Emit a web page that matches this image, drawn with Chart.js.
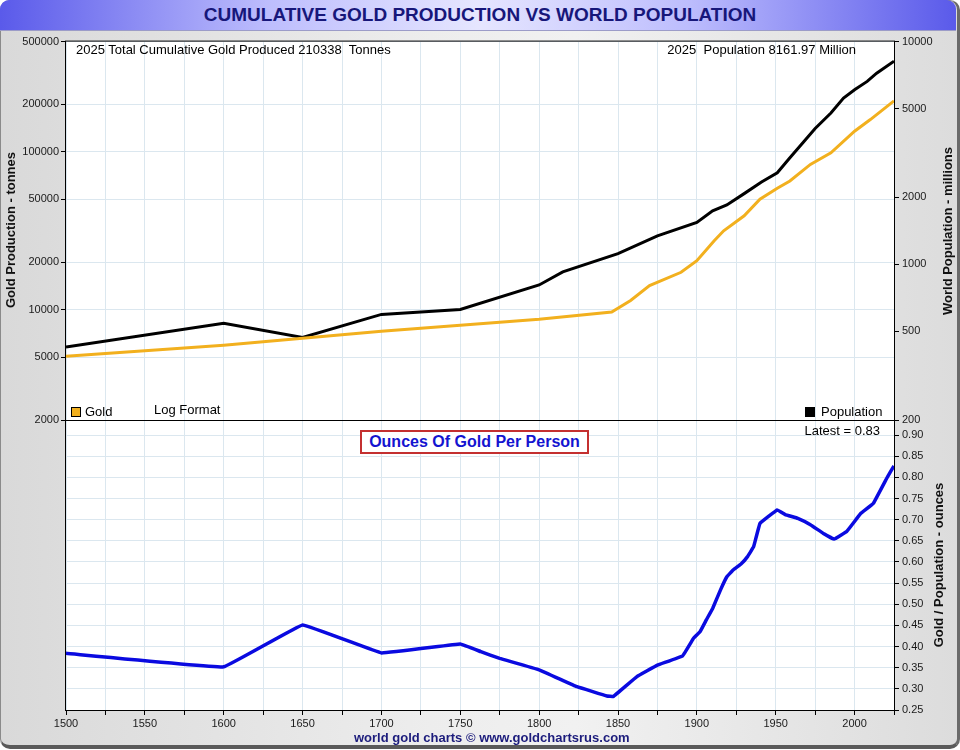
<!DOCTYPE html>
<html>
<head>
<meta charset="utf-8">
<title>Cumulative Gold Production vs World Population</title>
<script src="https://cdn.jsdelivr.net/npm/chart.js@4.4.1/dist/chart.umd.min.js"></script>
<style>
  body { margin: 0; width: 960px; height: 750px; overflow: hidden; font-family: "Liberation Sans", Arial, sans-serif; }
  #frame { position: absolute; left: 0; top: 0; width: 956px; height: 744px; border: 1px solid #8a8a8a;
    border-right: 3px solid #6a6a6a; border-bottom: 4px solid #5a5a5a; border-radius: 10px;
    background: linear-gradient(to right, #d9d9d9 0%, #ededed 45%, #f1f1f1 60%, #dcdcdc 100%); }
  #titlebar { position: absolute; left: 0; top: 0; width: 956px; height: 30px; border-radius: 9px 9px 0 0;
    border-bottom: 1px solid #9c9cc8;
    background: linear-gradient(to right, #5a5aea 0%, #bdbdfd 28%, #e6e6ff 50%, #bdbdfd 72%, #5a5aea 100%); }
  .abs { position: absolute; white-space: nowrap; }
  #title { left: 0; top: 4px; width: 960px; text-align: center; font-weight: bold; font-size: 19px; line-height: 22px; color: #17177a; }
  #footer { left: 354px; top: 731px; font-weight: bold; font-size: 13px; line-height: 14px; color: #1c1c7c; }
  canvas { position: absolute; left: 0; }
  #bottomChart { top: 410px; }
  #topChart { top: 32px; }
  .note { font-size: 13px; line-height: 14px; color: #000; }
  .ytitle { width: 300px; height: 16px; line-height: 16px; text-align: center; font-weight: bold; font-size: 13px; color: #111; transform: rotate(-90deg); }
  #ratioBox { left: 360px; top: 430px; width: 225px; height: 20px; border: 2px solid #c43030; background: #fff;
    text-align: center; font-weight: bold; font-size: 16px; line-height: 20px; color: #1414d0; }
  .swatch { width: 8px; height: 8px; border: 1px solid #000; }
</style>
</head>
<body>
<div id="frame"></div>
<div id="titlebar"></div>
<div id="title" class="abs">CUMULATIVE GOLD PRODUCTION VS WORLD POPULATION</div>

<canvas id="bottomChart" width="960" height="340"></canvas>
<canvas id="topChart" width="960" height="408"></canvas>

<div class="abs note" style="left:76px;top:43px;">2025 Total Cumulative Gold Produced 210338&nbsp; Tonnes</div>
<div class="abs note" style="right:104px;top:43px;">2025&nbsp; Population 8161.97 Million</div>
<div class="abs swatch" style="left:71px;top:407px;background:#f2b01e;"></div>
<div class="abs note" style="left:85px;top:405px;">Gold</div>
<div class="abs note" style="left:154px;top:403px;">Log Format</div>
<div class="abs swatch" style="left:805px;top:407px;background:#000;"></div>
<div class="abs note" style="left:821px;top:405px;">Population</div>
<div class="abs note" style="right:80px;top:424px;">Latest = 0.83</div>
<div id="ratioBox" class="abs">Ounces Of Gold Per Person</div>

<div class="abs ytitle" style="left:-139px;top:222px;">Gold Production - tonnes</div>
<div class="abs ytitle" style="left:798px;top:223px;">World Population - millions</div>
<div class="abs ytitle" style="left:789px;top:557px;">Gold / Population - ounces</div>

<div id="footer" class="abs">world gold charts &copy; www.goldchartsrus.com</div>

<script>
// cumulative gold produced, tonnes
const goldYears = [1500, 1600, 1650, 1700, 1750, 1800, 1846, 1858, 1870, 1890, 1900, 1911, 1917, 1930, 1940, 1951, 1959, 1972, 1985, 2000, 2010, 2025];
const goldTonnes = [5073, 5956, 6590, 7300, 7960, 8686, 9660, 11450, 14230, 17260, 20460, 27350, 31630, 39350, 50150, 58830, 65400, 83360, 98640, 135300, 160300, 210338];

// world population, millions
const popYears = [1500, 1600, 1650, 1700, 1750, 1800, 1815, 1850, 1875, 1900, 1910, 1919, 1930, 1941, 1951, 1959, 1969, 1975, 1985, 1993, 2000, 2008, 2014, 2025];
const popMillions = [425, 543, 470, 596, 627, 808, 925, 1116, 1343, 1541, 1738, 1848, 2077, 2343, 2577, 3008, 3636, 4072, 4781, 5578, 6081, 6625, 7215, 8162];

// ounces of gold per person
const ratioYears = [1500, 1600, 1650, 1700, 1750, 1763, 1775, 1800, 1824, 1843, 1847, 1862, 1875, 1891, 1898, 1902, 1906, 1910, 1915, 1919, 1923, 1928, 1932, 1936, 1940, 1951, 1956, 1964, 1972, 1980, 1987, 1995, 2004, 2012, 2021, 2025];
const ouncesPerPerson = [0.384, 0.352, 0.451, 0.385, 0.406, 0.388, 0.372, 0.345, 0.305, 0.283, 0.282, 0.329, 0.356, 0.378, 0.42, 0.435, 0.463, 0.49, 0.534, 0.565, 0.581, 0.595, 0.612, 0.636, 0.691, 0.723, 0.712, 0.703, 0.688, 0.668, 0.654, 0.672, 0.715, 0.739, 0.802, 0.827];

// tick values
const yearTicks = [1500, 1525, 1550, 1575, 1600, 1625, 1650, 1675, 1700, 1725, 1750, 1775, 1800, 1825, 1850, 1875, 1900, 1925, 1950, 1975, 2000, 2025];
const goldTicks = [2000, 5000, 10000, 20000, 50000, 100000, 200000, 500000];
const popTicks = [200, 500, 1000, 2000, 5000, 10000];
const ratioTicks = [0.25, 0.30, 0.35, 0.40, 0.45, 0.50, 0.55, 0.60, 0.65, 0.70, 0.75, 0.80, 0.85, 0.90];

Chart.defaults.font.family = '"Liberation Sans", Arial, sans-serif';
Chart.defaults.font.size = 11;
Chart.defaults.color = '#1a1a1a';

const GRID = '#dbe7ef';

const pts = (xs, ys) => xs.map((x, i) => ({ x: x, y: ys[i] }));
const setTicks = vals => scale => { scale.ticks = vals.map(v => ({ value: v })); };
const fixWidth = w => scale => { scale.width = w; };
const fixHeight = h => scale => { scale.height = h; };

// white plot background + black frame round the plot area
const plotFrame = {
  id: 'plotFrame',
  beforeDraw(chart) {
    const a = chart.chartArea, c = chart.ctx;
    c.save();
    c.fillStyle = '#fff';
    c.fillRect(a.left, a.top, a.width, a.height);
    c.restore();
  },
  afterDraw(chart) {
    const a = chart.chartArea, c = chart.ctx;
    c.save();
    c.strokeStyle = '#000';
    c.lineWidth = 1;
    c.strokeRect(a.left - 0.5, a.top - 0.5, a.width + 1, a.height + 1);
    c.restore();
  }
};

// TOP PANEL: gold (left, log) and population (right, log)
new Chart(document.getElementById('topChart'), {
  type: 'line',
  data: {
    datasets: [
      { label: 'Gold', data: pts(goldYears, goldTonnes), yAxisID: 'yGold',
        borderColor: '#f2b01e', borderWidth: 3, pointRadius: 0, tension: 0 },
      { label: 'Population', data: pts(popYears, popMillions), yAxisID: 'yPop',
        borderColor: '#000', borderWidth: 3, pointRadius: 0, tension: 0 }
    ]
  },
  options: {
    responsive: false,
    animation: false,
    events: [],
    layout: { padding: { top: 8, bottom: 20, left: 0, right: 0 } },
    plugins: { legend: { display: false }, tooltip: { enabled: false } },
    scales: {
      x: {
        type: 'linear', min: 1500, max: 2025,
        afterBuildTicks: setTicks(yearTicks), afterFit: fixHeight(0),
        ticks: { display: false },
        grid: { color: GRID, drawTicks: false },
        border: { display: false }
      },
      yGold: {
        type: 'logarithmic', position: 'left', min: 2000, max: 500000,
        afterBuildTicks: setTicks(goldTicks), afterFit: fixWidth(66),
        ticks: { callback: v => String(v), padding: 2, autoSkip: false },
        grid: { color: GRID, tickColor: '#000', tickLength: 5 },
        border: { display: false }
      },
      yPop: {
        type: 'logarithmic', position: 'right', min: 200, max: 10000,
        afterBuildTicks: setTicks(popTicks), afterFit: fixWidth(66),
        ticks: { callback: v => String(v), padding: 3, autoSkip: false },
        grid: { drawOnChartArea: false, tickColor: '#000', tickLength: 5 },
        border: { display: false }
      }
    }
  },
  plugins: [plotFrame]
});

// BOTTOM PANEL: ounces of gold per person
new Chart(document.getElementById('bottomChart'), {
  type: 'line',
  data: {
    datasets: [
      { label: 'Ounces Of Gold Per Person', data: pts(ratioYears, ouncesPerPerson), yAxisID: 'yRatio',
        borderColor: '#0a0ae0', borderWidth: 3.5, pointRadius: 0, tension: 0.05 }
    ]
  },
  options: {
    responsive: false,
    animation: false,
    events: [],
    layout: { padding: { top: 10, bottom: 0, left: 66, right: 0 } },
    plugins: { legend: { display: false }, tooltip: { enabled: false } },
    scales: {
      x: {
        type: 'linear', min: 1500, max: 2025,
        afterBuildTicks: setTicks(yearTicks), afterFit: fixHeight(40),
        ticks: { autoSkip: false, maxRotation: 0, padding: 2, callback: v => (v % 50 === 0 ? String(v) : '') },
        grid: { color: GRID, tickColor: '#000', tickLength: 5 },
        border: { display: false }
      },
      yRatio: {
        type: 'linear', position: 'right', min: 0.25, max: 0.9356,
        afterBuildTicks: setTicks(ratioTicks), afterFit: fixWidth(66),
        ticks: { callback: v => v.toFixed(2), padding: 3, autoSkip: false },
        grid: { color: GRID, tickColor: '#000', tickLength: 5 },
        border: { display: false }
      }
    }
  },
  plugins: [plotFrame]
});
</script>
</body>
</html>
